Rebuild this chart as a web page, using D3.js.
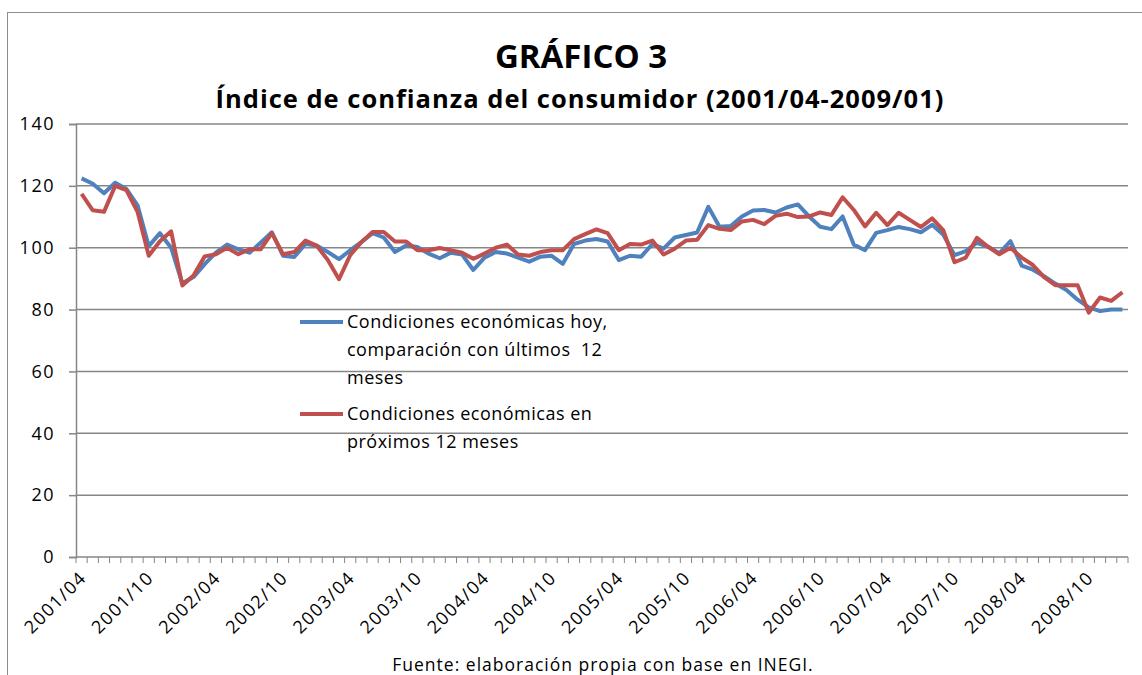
<!doctype html>
<html>
<head>
<meta charset="UTF-8">
<script src="https://cdn.jsdelivr.net/npm/d3@7"></script>
<style>
  body { margin: 0; background: #fff; }
  text { font-family: "Open Sans", Lato, sans-serif; fill: #000; white-space: pre; }
</style>
</head>
<body>
<svg id="chart"></svg>
<script>
// months 2001/04 .. 2009/01
var months = d3.timeMonth.range(new Date(2001, 3, 1), new Date(2009, 1, 1)).map(d3.timeFormat("%Y/%m"));

var tickLabels = ["2001/04","2001/10","2002/04","2002/10","2003/04","2003/10","2004/04","2004/10",
                  "2005/04","2005/10","2006/04","2006/10","2007/04","2007/10","2008/04","2008/10"];
var yTicks = [0, 20, 40, 60, 80, 100, 120, 140];

// Condiciones económicas hoy (blue)
var hoy = [122.4,120.7,117.6,121.0,119.0,113.7,100.5,104.7,100.0,88.5,
           90.5,94.7,98.4,101.0,99.5,98.4,101.6,105.0,97.4,97.0,
           101.2,100.7,98.6,96.3,99.2,101.8,104.7,103.3,98.6,100.7,
           100.2,98.1,96.6,98.4,97.8,92.8,96.8,98.6,98.1,96.8,
           95.5,97.1,97.4,94.8,101.2,102.3,102.8,102.0,96.0,97.4,
           97.1,101.2,99.7,103.3,104.1,104.9,113.2,106.8,107.0,110.1,
           112.0,112.2,111.4,113.0,114.0,110.1,106.8,106.0,110.1,101.0,
           99.2,104.8,105.7,106.7,106.0,105.0,107.4,104.2,97.6,98.9,
           101.6,100.3,98.2,102.1,94.2,92.9,90.8,88.4,86.3,83.2,
           80.7,79.5,80.0,80.0];

// Condiciones económicas en próximos 12 meses (red)
var proximos = [117.4,112.1,111.6,120.0,118.6,111.6,97.4,102.1,105.3,87.8,
                91.0,97.2,97.9,100.0,97.9,99.5,99.5,104.7,97.9,98.6,
                102.3,100.7,96.0,89.8,97.6,101.8,105.1,105.1,102.0,102.0,
                99.2,99.2,99.9,99.2,98.4,96.4,98.1,100.0,101.0,97.8,
                97.4,98.6,99.2,99.2,102.8,104.4,105.9,104.7,99.2,101.2,
                101.0,102.3,97.8,99.7,102.3,102.6,107.3,106.1,105.7,108.5,
                109.0,107.6,110.3,111.0,109.9,110.1,111.4,110.6,116.3,112.2,
                106.9,111.3,107.3,111.3,109.0,106.7,109.5,105.6,95.3,96.8,
                103.2,100.3,97.9,100.0,96.8,94.4,90.5,87.9,87.9,87.9,
                79.0,83.9,82.8,85.6];

var series = [
  {name: ["Condiciones económicas hoy,", "comparación con últimos  12", "meses"], values: hoy, color: "#4f81bd"},
  {name: ["Condiciones económicas en", "próximos 12 meses"], values: proximos, color: "#c0504d"}
];

var width = 1142, height = 675;
var plotLeft = 76, plotRight = 1128, plotTop = 124, plotBottom = 557;

var svg = d3.select("#chart").attr("width", width).attr("height", height);

// outer frame
svg.append("rect").attr("x", 7.5).attr("y", 12.5).attr("width", 1140).attr("height", 670)
  .attr("fill", "none").attr("stroke", "#8c8c8c").attr("stroke-width", 1);

var x = d3.scaleBand().domain(months).range([plotLeft, plotRight]).padding(0);
var y = d3.scaleLinear().domain([0, 140]).range([plotBottom, plotTop]);

// gridlines
svg.append("g").selectAll("line").data(yTicks.slice(1)).join("line")
  .attr("x1", plotLeft).attr("x2", plotRight)
  .attr("y1", d => y(d)).attr("y2", d => y(d))
  .attr("stroke", "#868686").attr("stroke-width", 1.5);

// y axis
var yAxis = svg.append("g").attr("transform", "translate(" + plotLeft + ",0)")
  .call(d3.axisLeft(y).tickValues(yTicks).tickSize(7).tickPadding(14));
yAxis.select(".domain").attr("stroke", "#868686").attr("stroke-width", 1.5);
yAxis.selectAll(".tick line").attr("stroke", "#868686").attr("stroke-width", 1.5);
yAxis.selectAll("text").style("font-size", "18px").style("letter-spacing", "1.5px")
  .style("font-family", "'Open Sans', sans-serif").attr("fill", "#000");

// x axis: tick marks at category boundaries
var xg = svg.append("g");
xg.append("line").attr("x1", plotLeft).attr("x2", plotRight).attr("y1", plotBottom).attr("y2", plotBottom)
  .attr("stroke", "#868686").attr("stroke-width", 1.5);
xg.selectAll("line.tk").data(months.concat(["end"])).join("line").attr("class", "tk")
  .attr("x1", (d, i) => plotLeft + i * x.step()).attr("x2", (d, i) => plotLeft + i * x.step())
  .attr("y1", plotBottom).attr("y2", plotBottom + 6)
  .attr("stroke", "#868686").attr("stroke-width", 1);
xg.selectAll("text").data(tickLabels).join("text")
  .attr("transform", d => "translate(" + (x(d) + x.bandwidth() / 2 + 6) + "," + (plotBottom + 22) + ") rotate(-45)")
  .attr("text-anchor", "end")
  .style("font-size", "18px")
  .style("letter-spacing", "1.5px")
  .text(d => d);

// lines
var line = d3.line()
  .x((d, i) => x(months[i]) + x.bandwidth() / 2)
  .y(d => y(d));

svg.append("g").selectAll("path").data(series).join("path")
  .attr("d", d => line(d.values))
  .attr("fill", "none")
  .attr("stroke", d => d.color)
  .attr("stroke-width", 4)
  .attr("stroke-linejoin", "round");

// legend
var legendY = [322, 414];
series.forEach(function (s, k) {
  var g = svg.append("g");
  g.append("line").attr("x1", 300).attr("x2", 343).attr("y1", legendY[k]).attr("y2", legendY[k])
    .attr("stroke", s.color).attr("stroke-width", 4);
  s.name.forEach(function (t, j) {
    g.append("text").attr("x", 347).attr("y", legendY[k] + 6 + j * 28)
      .style("font-size", "18px").style("letter-spacing", "0.5px").text(t);
  });
});

// titles
svg.append("text").attr("x", 581).attr("y", 68).attr("text-anchor", "middle")
  .style("font-size", "33px").style("font-weight", "bold").text("GRÁFICO 3");
svg.append("text").attr("x", 580).attr("y", 108).attr("text-anchor", "middle")
  .style("font-size", "25.5px").style("font-weight", "bold").style("letter-spacing", "1px")
  .text("Índice de confianza del consumidor (2001/04-2009/01)");

svg.append("text").attr("x", 603).attr("y", 671).attr("text-anchor", "middle")
  .style("font-size", "17.5px").style("letter-spacing", "1px")
  .text("Fuente: elaboración propia con base en INEGI.");
</script>
</body>
</html>
